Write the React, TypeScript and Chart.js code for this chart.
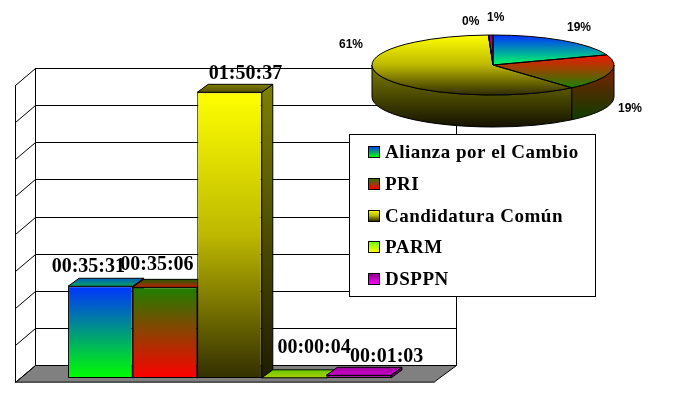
import React, { useEffect, useRef } from "react";
import { Chart, registerables } from "chart.js";

Chart.register(...registerables);

// ---- data ----
const seriesNames = ["Alianza por el Cambio", "PRI", "Candidatura Común", "PARM", "DSPPN"];
const seriesSeconds = [2131, 2106, 6637, 4, 63];
const timeLabels = ["00:35:31", "00:35:06", "01:50:37", "00:00:04", "00:01:03"];
const pieLabels = ["19%", "19%", "61%", "0%", "1%"];

// ---- styling ----
const W = 699;
const H = 404;
const frontGradients = [
  ["#0033ff", "#00ff00"],
  ["#1f8000", "#ff0000"],
  ["#ffff00", "#bdb800", "#332f00"],
  ["#66ff00", "#ffff00"],
  ["#800080", "#ff00ff"],
];
const topFaces = [
  ["#0060c0", "#00a060"],
  ["#206000", "#c02000"],
  ["#808000", "#555000"],
  ["#66cc00", "#aacc00"],
  ["#a000a0", "#cc00cc"],
];
const sideFaces = [
  ["#002080", "#008000"],
  ["#104000", "#800000"],
  ["#808000", "#1e1c00"],
  ["#338000", "#808000"],
  ["#400040", "#800080"],
];
const pieTopColors = [
  ["#0030ff", "#00ff60"],
  ["#ff1000", "#208000"],
  ["#ffff00", "#bdb800", "#302c00"],
  ["#66ff00", "#ffff00"],
  ["#800080", "#ff00ff"],
];
const pieTopSpans = [
  [81, 202],
  [154, 291],
  [81, 323],
  [81, 202],
  [81, 202],
];
const pieSides = [
  ["#002080", "#008000"],
  ["#802000", "#004000"],
  ["#808000", "#141200"],
  ["#338000", "#808000"],
  ["#400040", "#800080"],
];

const DEPTH_X = 20;
const DEPTH_Y = 17;
const BACK_UP = 13;
const WALL_RIGHT = 456;
const WALL_LEFT = 35;
const BAR_DX = 11;
const BAR_DY = 8;
const SERIF = '"Liberation Serif", "Times New Roman", serif';
const SANS = '"Liberation Sans", Arial, sans-serif';

const labelShift = [
  [-12, -14],
  [-8, -17],
  [16, -13],
  [20, -25],
  [28, -13],
];
const pieLabelAt = [
  [567, 31],
  [618, 112],
  [339, 48],
  [462, 25],
  [487, 21],
];

function vGrad(ctx: any, y0: number, y1: number, c: string[]) {
  const g = ctx.createLinearGradient(0, y0, 0, y1);
  c.forEach((col, i) => g.addColorStop(i / (c.length - 1), col));
  return g;
}

function poly(ctx: any, pts: number[][], fill?: any) {
  ctx.beginPath();
  pts.forEach((p, i) => (i ? ctx.lineTo(p[0], p[1]) : ctx.moveTo(p[0], p[1])));
  ctx.closePath();
  if (fill) {
    ctx.fillStyle = fill;
    ctx.fill();
  }
  ctx.stroke();
}

const wallsPlugin = {
  id: "walls",
  beforeDatasetsDraw(chart: any) {
    const { ctx, scales } = chart;
    const y = scales.y;
    const base = y.getPixelForValue(0) - BACK_UP;
    const top = y.getPixelForValue(y.max) - BACK_UP;
    ctx.save();
    ctx.strokeStyle = "#000";
    ctx.lineWidth = 1;
    const l = WALL_LEFT + 0.5;
    const r = WALL_RIGHT + 0.5;
    // floor
    poly(ctx, [
      [l, base + 0.5],
      [r, base + 0.5],
      [r - DEPTH_X - 3, base + DEPTH_Y + 0.5],
      [l - DEPTH_X, base + DEPTH_Y + 0.5],
    ], "#808080");
    ctx.fillStyle = "#555";
    ctx.fillRect(l - DEPTH_X, base + DEPTH_Y - 1, r - l - 2, 2);
    // grid
    y.ticks.forEach((t: any) => {
      const yy = Math.round(y.getPixelForValue(t.value) - BACK_UP) + 0.5;
      ctx.beginPath();
      ctx.moveTo(r, yy);
      ctx.lineTo(l, yy);
      ctx.lineTo(l - DEPTH_X, yy + DEPTH_Y);
      ctx.stroke();
    });
    // verticals
    ctx.beginPath();
    ctx.moveTo(l, top);
    ctx.lineTo(l, base);
    ctx.moveTo(r, top);
    ctx.lineTo(r, base);
    ctx.moveTo(l - DEPTH_X, top + DEPTH_Y);
    ctx.lineTo(l - DEPTH_X, base + DEPTH_Y);
    ctx.stroke();
    // 3D faces of bars
    chart.data.datasets.forEach((_: any, i: number) => {
      const b = chart.getDatasetMeta(i).data[0];
      const x0 = b.x - b.width / 2;
      const x1 = b.x + b.width / 2;
      const yt = b.y;
      const yb = b.base;
      poly(ctx, [
        [x1, yt],
        [x1 + BAR_DX, yt - BAR_DY],
        [x1 + BAR_DX, yb - BAR_DY],
        [x1, yb],
      ], vGrad(ctx, yt - BAR_DY, yb, sideFaces[i]));
      poly(ctx, [
        [x0, yt],
        [x0 + BAR_DX, yt - BAR_DY],
        [x1 + BAR_DX, yt - BAR_DY],
        [x1, yt],
      ], vGrad(ctx, yt - BAR_DY, yt, topFaces[i]));
    });
    ctx.restore();
  },
  afterDatasetsDraw(chart: any) {
    const { ctx } = chart;
    ctx.save();
    // value labels
    ctx.fillStyle = "#000";
    ctx.font = `bold 20px ${SERIF}`;
    ctx.textAlign = "center";
    ctx.textBaseline = "alphabetic";
    chart.data.datasets.forEach((_: any, i: number) => {
      const b = chart.getDatasetMeta(i).data[0];
      ctx.fillText(timeLabels[i], b.x + labelShift[i][0], b.y + labelShift[i][1]);
    });
    // legend
    ctx.fillStyle = "#fff";
    ctx.strokeStyle = "#000";
    ctx.lineWidth = 1;
    ctx.fillRect(349.5, 134.5, 246, 162);
    ctx.strokeRect(349.5, 134.5, 246, 162);
    ctx.font = `bold 19px ${SERIF}`;
    ctx.textAlign = "left";
    (ctx as any).letterSpacing = "0.5px";
    seriesNames.forEach((name, i) => {
      const sy = 146 + i * 32 - (i > 2 ? 1 : 0);
      ctx.fillStyle = vGrad(ctx, sy, sy + 11, frontGradients[i]);
      ctx.fillRect(368.5, sy + 0.5, 11, 11);
      ctx.strokeRect(368.5, sy + 0.5, 11, 11);
      ctx.fillStyle = "#000";
      ctx.fillText(name, 385, sy + 12);
    });
    ctx.restore();
  },
};

const PIE_CX = 493;
const PIE_CY = 65;
const PIE_RY = 30;
const PIE_DEPTH = 32;

const piePlugin = {
  id: "pie3d",
  beforeDatasetsDraw(chart: any) {
    const { ctx } = chart;
    const arcs = chart.getDatasetMeta(0).data;
    const a0 = arcs[0];
    const rx = a0.outerRadius;
    ctx.save();
    ctx.strokeStyle = "#000";
    ctx.lineWidth = 1;
    arcs.forEach((a: any, i: number) => {
      let s = a.startAngle % (2 * Math.PI);
      if (s < -Math.PI / 2) s += 2 * Math.PI;
      const e = s + (a.endAngle - a.startAngle);
      const from = Math.max(s, 0);
      const to = Math.min(e, Math.PI);
      if (to > from) {
        ctx.beginPath();
        ctx.ellipse(PIE_CX, PIE_CY, rx, PIE_RY, 0, from, to, false);
        ctx.ellipse(PIE_CX, PIE_CY + PIE_DEPTH, rx, PIE_RY, 0, to, from, true);
        ctx.closePath();
        ctx.fillStyle = vGrad(ctx, PIE_CY, PIE_CY + PIE_RY + PIE_DEPTH, pieSides[i]);
        ctx.fill();
        ctx.stroke();
      }
    });
    ctx.restore();
    ctx.save();
    const k = PIE_RY / rx;
    ctx.translate(PIE_CX, PIE_CY);
    ctx.scale(1, k);
    ctx.translate(-a0.x, -a0.y);
  },
  afterDatasetsDraw(chart: any) {
    const { ctx } = chart;
    ctx.restore();
    const arcs = chart.getDatasetMeta(0).data;
    ctx.save();
    ctx.strokeStyle = "#000";
    ctx.lineWidth = 1;
    arcs.forEach((a: any) => {
      const rx = a.outerRadius;
      ctx.beginPath();
      ctx.moveTo(PIE_CX, PIE_CY);
      ctx.ellipse(PIE_CX, PIE_CY, rx, PIE_RY, 0, a.startAngle, a.endAngle, false);
      ctx.closePath();
      ctx.stroke();
    });
    ctx.fillStyle = "#000";
    ctx.font = `bold 12px ${SANS}`;
    ctx.textAlign = "left";
    pieLabels.forEach((t, i) => ctx.fillText(t, pieLabelAt[i][0], pieLabelAt[i][1]));
    ctx.restore();
  },
};

export default function App() {
  const barRef = useRef<HTMLCanvasElement>(null);
  const pieRef = useRef<HTMLCanvasElement>(null);

  useEffect(() => {
    const bar = new Chart(barRef.current as any, {
      type: "bar",
      data: {
        labels: [""],
        datasets: seriesNames.map((name, i) => ({
          label: name,
          data: [seriesSeconds[i]],
          backgroundColor: (c: any) => {
            const y = c.chart.scales.y;
            const y0 = y ? y.getPixelForValue(seriesSeconds[i]) : NaN;
            const y1 = y ? y.getPixelForValue(0) : NaN;
            if (!Number.isFinite(y0) || !Number.isFinite(y1)) return frontGradients[i][0];
            return vGrad(c.chart.ctx, y0, y1, frontGradients[i]);
          },
          borderColor: "#000",
          borderWidth: 1,
          borderSkipped: false,
          barPercentage: 1,
          categoryPercentage: 0.767,
        })),
      },
      options: {
        responsive: false,
        animation: false,
        layout: { padding: { left: 19, right: 259, top: 81, bottom: 26 } },
        plugins: { legend: { display: false }, title: { display: false }, tooltip: { enabled: false } },
        scales: {
          x: { display: false, grid: { display: false } },
          y: { display: false, min: 0, max: 6900, ticks: { stepSize: 862.5 }, grid: { display: false } },
        },
      },
      plugins: [wallsPlugin],
    } as any);

    const pie = new Chart(pieRef.current as any, {
      type: "pie",
      data: {
        labels: seriesNames,
        datasets: [
          {
            data: seriesSeconds,
            borderWidth: 0,
            backgroundColor: (c: any) => {
              const i = c.dataIndex;
              if (!pieTopColors[i]) return "#000";
              return vGrad(c.chart.ctx, pieTopSpans[i][0], pieTopSpans[i][1], pieTopColors[i]);
            },
          },
        ],
      },
      options: {
        responsive: false,
        animation: false,
        layout: { padding: { left: 372, right: 85, top: 81, bottom: 81 } },
        plugins: { legend: { display: false }, title: { display: false }, tooltip: { enabled: false } },
      },
      plugins: [piePlugin],
    } as any);

    return () => {
      bar.destroy();
      pie.destroy();
    };
  }, []);

  const canvasStyle: React.CSSProperties = { position: "absolute", left: 0, top: 0, display: "block" };
  return (
    <div style={{ position: "absolute", left: 0, top: 0, width: W, height: H, background: "#fff", overflow: "hidden" }}>
      <canvas ref={barRef} width={W} height={H} style={canvasStyle} />
      <canvas ref={pieRef} width={W} height={H} style={canvasStyle} />
    </div>
  );
}
